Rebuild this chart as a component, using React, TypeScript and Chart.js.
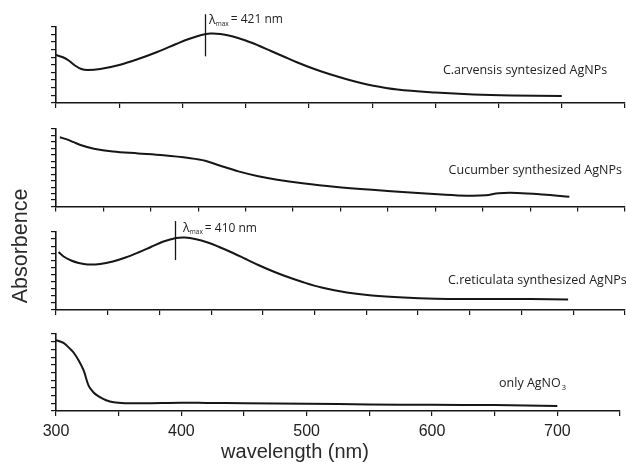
import React, { useEffect, useRef } from 'react';
import { Chart, registerables } from 'chart.js';

Chart.register(...registerables);

const W = 626;
const H = 465;

// ---------- data (wavelength nm, absorbance in panel units 0..10) ----------
const arvensisX = [300, 305, 310, 315, 320, 325, 335, 350, 365, 380, 395, 405, 415, 422, 430, 440, 450, 460, 470, 480, 490, 500, 510, 520, 535, 550, 570, 600, 630, 660, 700];
const arvensisY = [6.27, 6.01, 5.56, 4.9, 4.44, 4.31, 4.44, 4.97, 5.75, 6.67, 7.71, 8.37, 8.89, 9.08, 9.02, 8.69, 8.17, 7.52, 6.8, 6.08, 5.36, 4.71, 4.12, 3.59, 2.88, 2.29, 1.76, 1.37, 1.11, 0.98, 0.92];

const cucumberX = [303, 308, 314, 320, 330, 345, 365, 385, 405, 418, 430, 445, 460, 475, 495, 520, 550, 580, 605, 625, 640, 650, 665, 685, 706];
const cucumberY = [8.93, 8.7, 8.3, 7.9, 7.45, 7.1, 6.85, 6.6, 6.25, 5.9, 5.25, 4.5, 3.9, 3.45, 3.0, 2.55, 2.15, 1.82, 1.55, 1.4, 1.45, 1.72, 1.75, 1.55, 1.25];

const reticulataX = [302, 306, 312, 318, 325, 335, 345, 355, 365, 375, 385, 395, 402, 410, 420, 430, 440, 450, 460, 470, 480, 495, 510, 530, 550, 575, 600, 625, 650, 675, 705];
const reticulataY = [7.44, 6.86, 6.35, 6.03, 5.83, 5.9, 6.22, 6.73, 7.37, 8.08, 8.78, 9.23, 9.29, 9.1, 8.65, 8.01, 7.31, 6.54, 5.77, 5.06, 4.42, 3.59, 2.88, 2.24, 1.86, 1.6, 1.45, 1.4, 1.4, 1.4, 1.35];

const agno3X = [300, 306, 312, 314, 318, 322, 326, 330, 334, 340, 346, 355, 370, 400, 420, 450, 500, 550, 600, 650, 700];
const agno3Y = [9.2, 8.85, 7.95, 7.6, 6.6, 5.3, 3.3, 2.4, 1.9, 1.4, 1.13, 1.02, 1.0, 1.08, 1.05, 1.0, 0.95, 0.85, 0.8, 0.78, 0.65];

// tick values
const xTicks50 = [300, 350, 400, 450, 500, 550, 600, 650, 700, 750];
const xTicks12 = Array.from({ length: 13 }, (_, i) => 300 + i * 37.5);
const xTicks11 = Array.from({ length: 12 }, (_, i) => 300 + (i * 450) / 11);
const yTicks10 = Array.from({ length: 11 }, (_, i) => i);
const yTicks12 = Array.from({ length: 13 }, (_, i) => (i * 10) / 12);
const yTicks11 = Array.from({ length: 12 }, (_, i) => (i * 10) / 11);
const xTickLabels = [300, 400, 500, 600, 700];

const INK = '#161616';
const TEXT = '#222';

type Panel = {
  xs: number[];
  ys: number[];
  top: number;
  bottom: number;
  xTicks: number[];
  yTicks: number[];
  showLabels: boolean;
  label: { text: string; sub?: string; x: number; y: number };
  lambda?: { x: number; y0: number; y1: number; value: string; tx: number; ty: number };
  titles?: boolean;
};

const panels: Panel[] = [
  {
    xs: arvensisX, ys: arvensisY, top: 26.5, bottom: 103, xTicks: xTicks50, yTicks: yTicks10, showLabels: false,
    label: { text: 'C.arvensis syntesized AgNPs', x: 606, y: 4.3 },
    lambda: { x: 418, y0: 6.1, y1: 11.6, value: '= 421 nm', tx: 421, ty: 10.85 },
  },
  {
    xs: cucumberX, ys: cucumberY, top: 129, bottom: 206.5, xTicks: xTicks12, yTicks: yTicks12, showLabels: false,
    label: { text: 'Cucumber synthesized AgNPs', x: 610.5, y: 4.7 },
  },
  {
    xs: reticulataX, ys: reticulataY, top: 232, bottom: 310, xTicks: xTicks11, yTicks: yTicks11, showLabels: false,
    label: { text: 'C.reticulata synthesized AgNPs', x: 610, y: 3.85 },
    lambda: { x: 394, y0: 6.4, y1: 11.4, value: '= 410 nm', tx: 400.5, ty: 10.5 },
  },
  {
    xs: agno3X, ys: agno3Y, top: 334, bottom: 411, xTicks: xTicks50, yTicks: yTicks10, showLabels: true,
    label: { text: 'only AgNO', sub: '3', x: 653.5, y: 3.64 },
    titles: true,
  },
];

const annotPlugin = {
  id: 'annot',
  afterDraw(chart: any, _args: any, opts: any) {
    const p: Panel = opts.panel;
    if (!p) return;
    const { ctx } = chart;
    const x = chart.scales.x;
    const y = chart.scales.y;
    ctx.save();
    ctx.fillStyle = TEXT;
    ctx.textBaseline = 'middle';
    ctx.textAlign = 'left';

    // series label
    const lx = x.getPixelForValue(p.label.x);
    const ly = y.getPixelForValue(p.label.y);
    ctx.font = '12.5px "Open Sans", "Noto Sans", sans-serif';
    ctx.fillText(p.label.text, lx, ly);
    if (p.label.sub) {
      const w = ctx.measureText(p.label.text).width;
      ctx.font = '7.5px "Open Sans", "Noto Sans", sans-serif';
      ctx.fillText(p.label.sub, lx + w + 1, ly + 5);
    }

    // lambda max marker
    if (p.lambda) {
      const L = p.lambda;
      const px = Math.round(x.getPixelForValue(L.x)) + 0.5;
      ctx.strokeStyle = INK;
      ctx.lineWidth = 1.3;
      ctx.beginPath();
      ctx.moveTo(px, y.getPixelForValue(L.y1));
      ctx.lineTo(px, y.getPixelForValue(L.y0));
      ctx.stroke();
      let tx = x.getPixelForValue(L.tx);
      const ty = y.getPixelForValue(L.ty);
      ctx.font = '12.5px "Open Sans", "Noto Sans", sans-serif';
      ctx.fillText('λ', tx, ty);
      tx += ctx.measureText('λ').width;
      ctx.font = '6.5px "Open Sans", "Noto Sans", sans-serif';
      ctx.fillText('max', tx, ty + 4);
      tx += ctx.measureText('max').width + 2;
      ctx.font = '12px "Open Sans", "Noto Sans", sans-serif';
      ctx.fillText(L.value, tx, ty);
    }

    // axis titles (drawn once, with the bottom panel)
    if (p.titles) {
      ctx.fillStyle = '#2a2a2a';
      ctx.font = '20px "Liberation Sans", Arial, sans-serif';
      ctx.textAlign = 'center';
      ctx.fillText('wavelength (nm)', 295, 452);
      ctx.save();
      ctx.translate(21, 246);
      ctx.rotate(-Math.PI / 2);
      ctx.font = '21.5px "Liberation Sans", Arial, sans-serif';
      ctx.fillText('Absorbence', 0, 0);
      ctx.restore();
    }
    ctx.restore();
  },
};

function PanelChart({ panel }: { panel: Panel }) {
  const ref = useRef<HTMLCanvasElement | null>(null);
  useEffect(() => {
    if (!ref.current) return;
    const xh = panel.showLabels ? 34 : 5;
    const chart = new Chart(ref.current, {
      type: 'line',
      data: {
        datasets: [
          {
            data: panel.xs.map((v, i) => ({ x: v, y: panel.ys[i] })),
            borderColor: INK,
            borderWidth: 2,
            pointRadius: 0,
            fill: false,
            tension: 0.35,
          },
        ],
      },
      options: {
        animation: false,
        responsive: false,
        events: [],
        layout: { padding: { top: panel.top, left: 0, right: 1, bottom: H - panel.bottom - xh } },
        plugins: {
          legend: { display: false },
          tooltip: { enabled: false },
          annot: { panel },
        } as any,
        scales: {
          x: {
            type: 'linear',
            min: 300,
            max: 750,
            afterBuildTicks: (s: any) => {
              s.ticks = panel.xTicks.map((v) => ({ value: v }));
            },
            afterFit: (s: any) => {
              s.height = xh;
            },
            grid: { drawOnChartArea: false, drawTicks: true, tickLength: 5, color: INK, lineWidth: 1.2 },
            border: { color: INK, width: 1.6 },
            ticks: {
              display: panel.showLabels,
              autoSkip: false,
              maxRotation: 0,
              padding: 6,
              color: TEXT,
              font: { family: '"Liberation Sans", Arial, sans-serif', size: 16 },
              callback: (v: any) => (xTickLabels.includes(Number(v)) ? String(v) : ''),
            },
          },
          y: {
            type: 'linear',
            min: 0,
            max: 10,
            afterBuildTicks: (s: any) => {
              s.ticks = panel.yTicks.map((v) => ({ value: v }));
            },
            afterFit: (s: any) => {
              s.width = 56;
            },
            grid: { drawOnChartArea: false, drawTicks: true, tickLength: 5, color: INK, lineWidth: 1.2 },
            border: { color: INK, width: 1.6 },
            ticks: { display: false },
          },
        },
      } as any,
      plugins: [annotPlugin as any],
    });
    return () => chart.destroy();
  }, [panel]);
  return (
    <canvas
      ref={ref}
      width={W}
      height={H}
      style={{ position: 'absolute', left: 0, top: 0, width: W, height: H }}
    />
  );
}

export default function App() {
  return (
    <div style={{ position: 'absolute', left: 0, top: 0, width: W, height: H, background: '#fff' }}>
      {panels.map((p, i) => (
        <PanelChart key={i} panel={p} />
      ))}
    </div>
  );
}
